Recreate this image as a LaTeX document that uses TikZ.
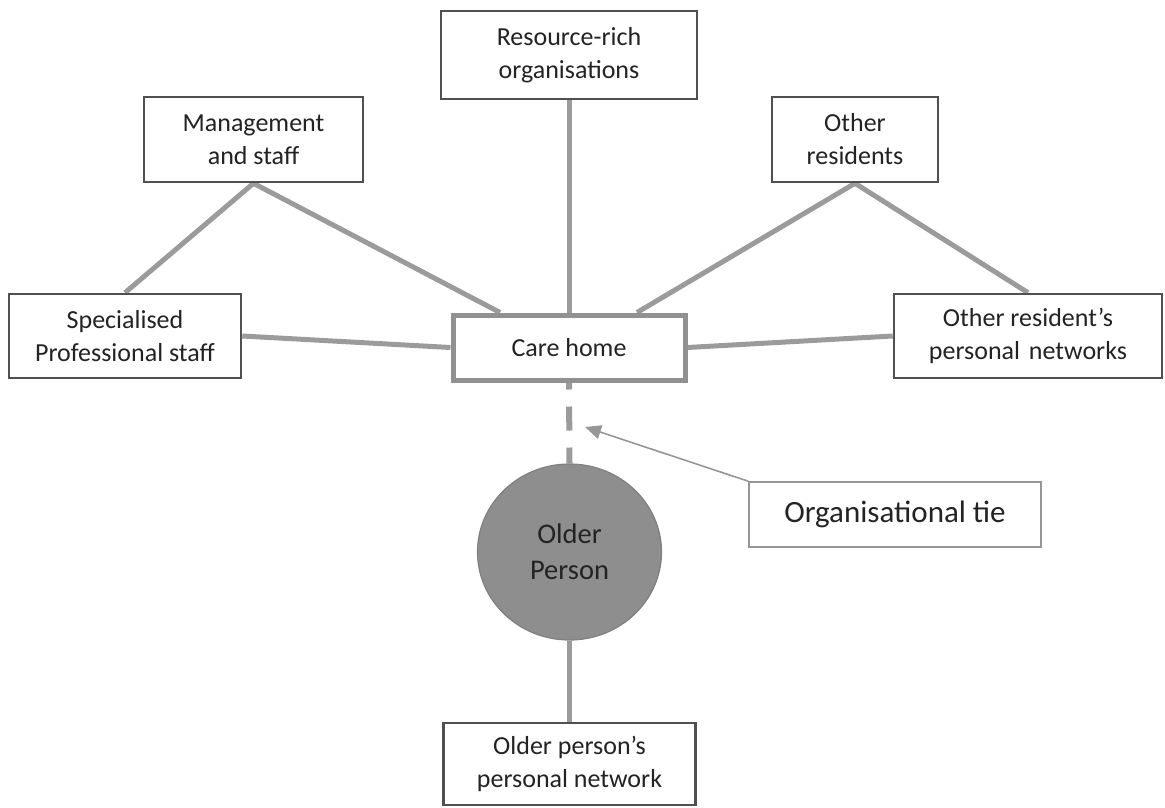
\documentclass[tikz,border=0pt]{standalone}
\usepackage{fontspec}
\setmainfont{Carlito}
\usetikzlibrary{arrows.meta,shapes.geometric}

\definecolor{boxline}{RGB}{80,80,80}
\definecolor{tieline}{RGB}{150,150,150}
\definecolor{linkgray}{RGB}{155,155,155}
\definecolor{carebord}{RGB}{145,145,145}
\definecolor{personfill}{RGB}{142,142,142}
\definecolor{personbord}{RGB}{128,128,128}
\definecolor{txt}{RGB}{35,35,35}

\pgfdeclarelayer{links}
\pgfsetlayers{links,main}

\tikzset{
  netbox/.style={draw=boxline, line width=2.6pt, fill=white, align=center,
    text=txt, font=\fontsize{26}{33}\selectfont, inner sep=0pt},
  carebox/.style={netbox, draw=carebord, line width=5pt},
  tiebox/.style={draw=tieline, line width=1.6pt, fill=white, text=txt,
    font=\fontsize{31}{36}\selectfont, inner sep=0pt},
  person/.style={ellipse, fill=personfill, draw=personbord, line width=1.2pt,
    align=center, text=txt, font=\fontsize{28.5}{36}\selectfont, inner sep=0pt},
  link/.style={draw=linkgray, line width=5pt},
  orgtie/.style={draw=linkgray, line width=6pt, dash pattern=on 24pt off 17pt, dash phase=17pt},
  pointer/.style={draw=tieline, line width=1.6pt,
    -{Triangle[length=16pt,width=14pt]}}
}

\begin{document}
\begin{tikzpicture}[x=1pt, y=-1pt]
  \useasboundingbox (0,0) rectangle (1165,807);

  % the network members
  \node[carebox, minimum width=232pt, minimum height=65pt] (care) at (569,347.5) {Care home};
  \node[netbox, minimum width=256pt, minimum height=88pt] (res) at (569,55) {Resource-rich\\organisations};
  \node[netbox, minimum width=219pt, minimum height=85pt] (mgmt) at (253.5,139.5) {Management\\and staff};
  \node[netbox, minimum width=166pt, minimum height=85pt] (oth) at (855,139.5) {Other\\residents};
  \node[netbox, minimum width=232pt, minimum height=84pt] (spec) at (125,336) {Specialised\\Professional staff};
  \node[netbox, minimum width=268pt, minimum height=84pt] (net) at (1028,336) {Other resident\kern1pt’s\\personal\hspace{3pt} networks};
  \node[person, minimum width=184pt, minimum height=176pt] (op) at (569.5,552) {Older\\Person};
  \node[netbox, minimum width=252pt, minimum height=82pt] (opn) at (569.5,764) {Older person’s\\personal network};
  \node[tiebox, minimum width=292pt, minimum height=65pt] (tie) at (895,514.5) {Organisational tie};
  \coordinate (tiepoint) at (585,427);

  % ties between them, kept beneath the boxes
  \begin{pgfonlayer}{links}
    \draw[link] (res.south) -- (care.north);
    \draw[link] (mgmt.south) -- ([xshift=-69pt]care.north);
    \draw[link] (mgmt.south) -- (spec.north);
    \draw[link] (oth.south) -- ([xshift=68pt]care.north);
    \draw[link] (oth.south) -- (net.north);
    \draw[link] (spec.east) -- (care.west);
    \draw[link] (care.east) -- (net.west);
    \draw[orgtie] (care.south) -- (op.north);
    \draw[link] (op.south) -- (opn.north);
  \end{pgfonlayer}

  \draw[pointer] (tie.north west) -- (tiepoint);
\end{tikzpicture}
\end{document}
